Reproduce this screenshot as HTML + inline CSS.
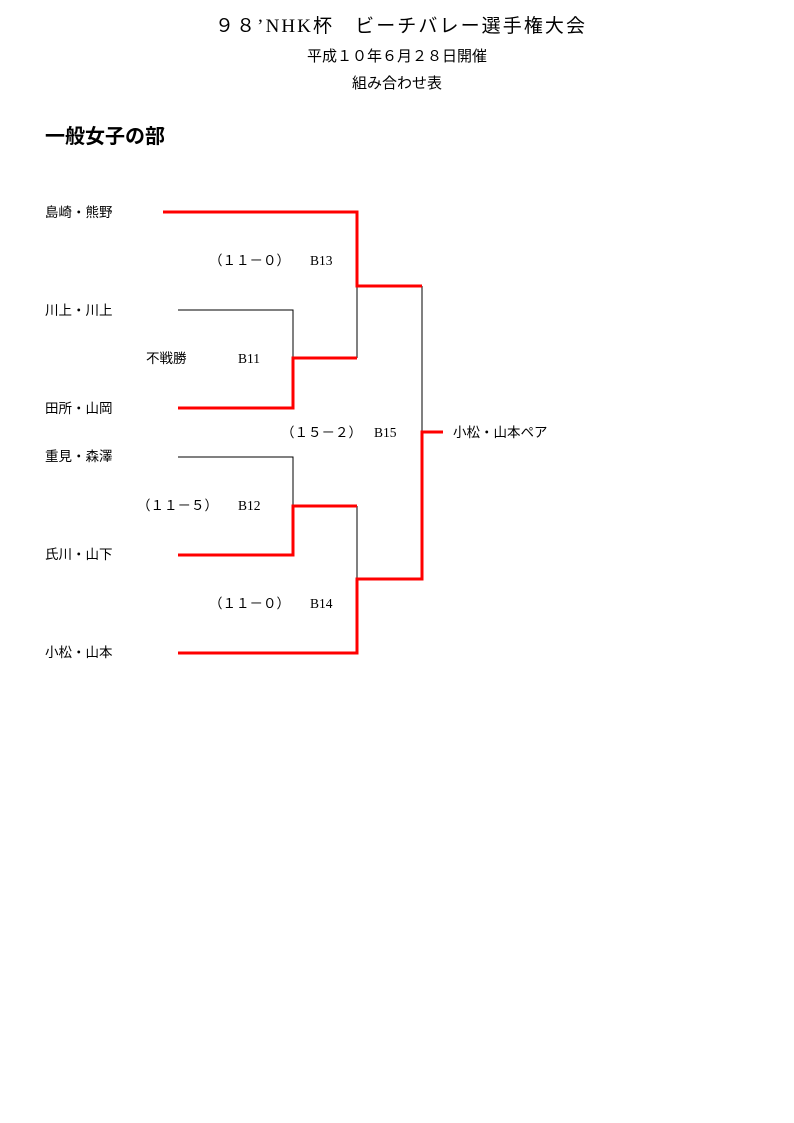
<!DOCTYPE html>
<html><head><meta charset="utf-8"><style>
body{margin:0;background:#fff;}
svg{display:block;}
text{font-family:"Liberation Serif","Noto Sans CJK JP",sans-serif;fill:#000;}
</style></head><body>
<svg width="794" height="1123" viewBox="0 0 794 1123" xmlns="http://www.w3.org/2000/svg">
<text x="400" y="32" font-size="19" text-anchor="middle" textLength="370" lengthAdjust="spacing">９８’NHK杯　ビーチバレー選手権大会</text>
<text x="397" y="61" font-size="15" text-anchor="middle">平成１０年６月２８日開催</text>
<text x="397" y="88" font-size="15" text-anchor="middle">組み合わせ表</text>
<text x="45" y="143" font-size="20" font-weight="bold">一般女子の部</text>
<g font-size="13.5">
<text x="45" y="217">島崎・熊野</text>
<text x="45" y="315">川上・川上</text>
<text x="45" y="413">田所・山岡</text>
<text x="45" y="461">重見・森澤</text>
<text x="45" y="559">氏川・山下</text>
<text x="45" y="657">小松・山本</text>
<text x="453" y="437">小松・山本ペア</text>
<text x="209" y="265">（１１－０）</text><text x="310" y="265">B13</text>
<text x="146" y="363">不戦勝</text><text x="238" y="363">B11</text>
<text x="281" y="437">（１５－２）</text><text x="374" y="437">B15</text>
<text x="137" y="510">（１１－５）</text><text x="238" y="510">B12</text>
<text x="209" y="608">（１１－０）</text><text x="310" y="608">B14</text>
</g>
<g fill="none" stroke="#000" stroke-width="1">
<polyline points="422,286 422,432"/>
<polyline points="178,310 293,310 293,358"/>
<polyline points="357,358 357,286"/>
<polyline points="178,457 293,457 293,506"/>
<polyline points="357,506 357,579"/>
</g>
<g fill="none" stroke="#f00" stroke-width="3" stroke-linejoin="miter">
<polyline points="163,212 357,212 357,286 422,286"/>
<polyline points="178,408 293,408 293,358 357,358"/>
<polyline points="178,555 293,555 293,506 357,506"/>
<polyline points="178,653 357,653 357,579 422,579 422,432 443,432"/>
</g>
</svg>
</body></html>
